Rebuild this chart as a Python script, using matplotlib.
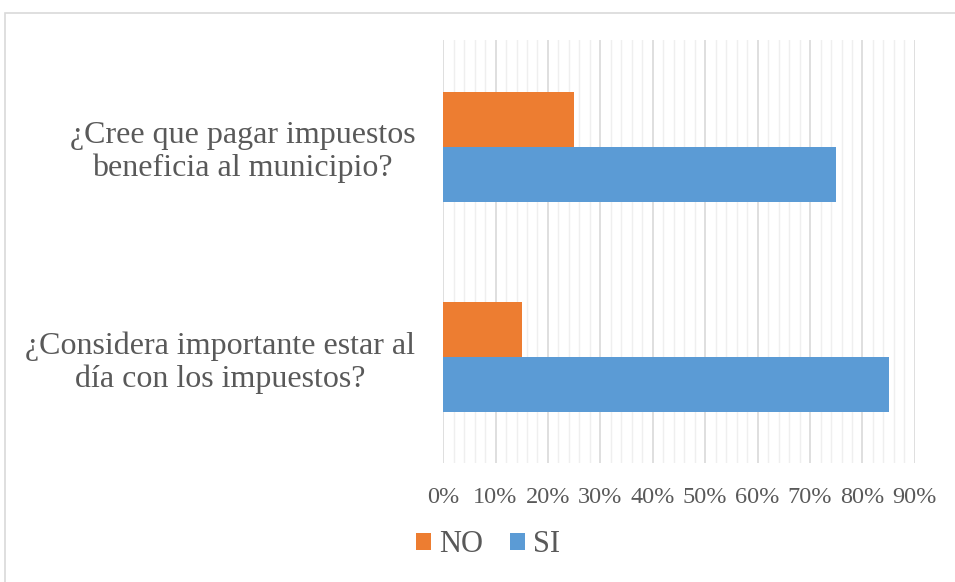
import matplotlib
matplotlib.use("Agg")
import matplotlib.pyplot as plt
from matplotlib.ticker import MultipleLocator, PercentFormatter
from matplotlib.patches import Rectangle

# data
categories = ["¿Cree que pagar impuestos\nbeneficia al municipio?",
              "¿Considera importante estar al\ndía con los impuestos?"]
no_vals = [0.25, 0.15]
si_vals = [0.75, 0.85]

plt.rcParams['font.family'] = ['Liberation Serif', 'DejaVu Serif']
gray = '#595959'

fig = plt.figure(figsize=(9.55, 5.82), dpi=100)
ax = fig.add_axes([0.464, 0.204, 0.494, 0.727])

pos = list(range(len(categories)))
h = 0.262
ax.barh([p - h / 2 for p in pos], no_vals, height=h, color='#ED7D31', label='NO')
ax.barh([p + h / 2 for p in pos], si_vals, height=h, color='#5B9BD5', label='SI')

ax.set_xlim(0, 0.9)
ax.set_ylim(1.505, -0.51)
ax.xaxis.set_major_locator(MultipleLocator(0.1))
ax.xaxis.set_minor_locator(MultipleLocator(0.02))
ax.xaxis.set_major_formatter(PercentFormatter(1.0, decimals=0))
ax.grid(axis='x', which='major', color='#D9D9D9', lw=1.2)
ax.grid(axis='x', which='minor', color='#EFEFEF', lw=1.0)
ax.set_axisbelow(True)

ax.set_yticks(pos)
ax.set_yticklabels(categories, multialignment='center', linespacing=1.15)
ax.tick_params(axis='y', length=0, pad=20, labelsize=23, labelcolor=gray)
ax.tick_params(axis='x', which='both', length=0, pad=17, labelsize=17.5, labelcolor=gray)
for s in ax.spines.values():
    s.set_visible(False)

fig.legend(loc='center', bbox_to_anchor=(0.511, 0.064), ncol=2, frameon=False,
           fontsize=22, labelcolor=gray, handlelength=0.5, handleheight=0.5,
           handletextpad=0.25, columnspacing=0.88)

# outer chart border
fig.patches.append(Rectangle((5 / 955, -0.1), 1.1, 1 - 13 / 582 + 0.1,
                             transform=fig.transFigure, fill=False,
                             edgecolor='#D9D9D9', lw=1.2))

fig.savefig('out.png', dpi=100)
